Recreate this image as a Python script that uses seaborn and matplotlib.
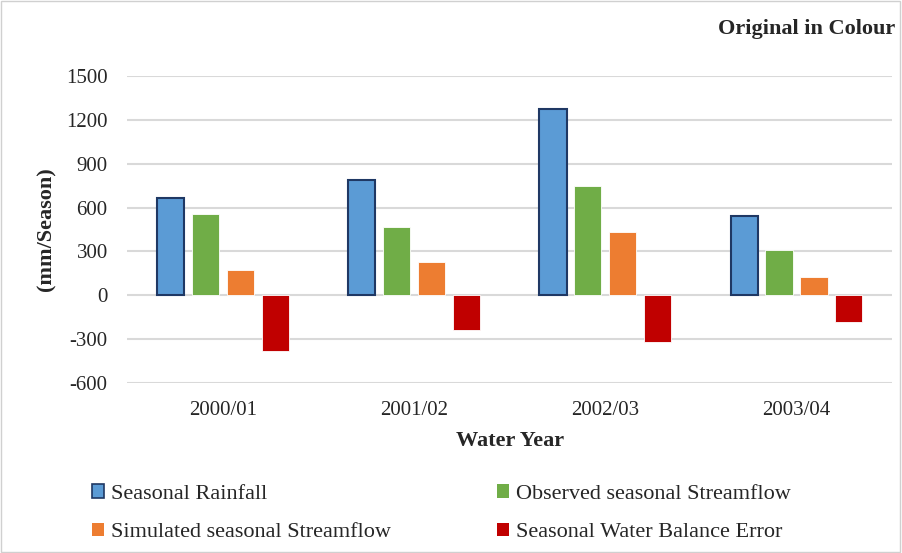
import pandas as pd
import matplotlib.pyplot as plt
import seaborn as sns
from matplotlib.patches import Patch

# =====================================
# DATA
# =====================================

years = ["2000/01", "2001/02", "2002/03", "2003/04"]
series = [
    "Seasonal Rainfall",
    "Observed seasonal Streamflow",
    "Simulated seasonal Streamflow",
    "Seasonal Water Balance Error",
]
rainfall = [665, 790, 1272, 540]
observed = [555, 465, 748, 310]
simulated = [172, 225, 435, 125]
error = [-382, -235, -315, -185]

colors = ["#5B9BD5", "#70AD47", "#ED7D31", "#C00000"]

df = pd.DataFrame({
    "Water Year": years * 4,
    "Series": [s for s in series for _ in years],
    "Value": rainfall + observed + simulated + error,
})

# =====================================
# PLOT
# =====================================

sns.set_style("white")
plt.rcParams["font.family"] = ["Liberation Serif", "DejaVu Serif"]
plt.rcParams["axes.unicode_minus"] = False

fig = plt.figure(figsize=(9.02, 5.53), dpi=100)
ax = fig.add_axes([0.141, 0.307, 0.848, 0.556])

sns.barplot(
    data=df,
    x="Water Year",
    y="Value",
    hue="Series",
    order=years,
    hue_order=series,
    palette=colors,
    saturation=1,
    width=0.73,
    gap=0.22,
    errorbar=None,
    legend=False,
    ax=ax,
)

# navy outline on the rainfall bars only
for patch in ax.patches[:len(years)]:
    patch.set_edgecolor("#1F3864")
    patch.set_linewidth(1.5)
for patch in ax.patches[len(years):]:
    patch.set_edgecolor("white")
    patch.set_linewidth(0.6)

ax.set_ylim(-600, 1500)
ax.set_yticks(range(-600, 1501, 300))
ax.yaxis.grid(True, color="#d9d9d9", linewidth=1.5)
ax.set_axisbelow(True)
for side in ["top", "right", "left", "bottom"]:
    ax.spines[side].set_visible(False)
ax.tick_params(axis="y", length=0, labelsize=15, pad=14)
ax.tick_params(axis="x", length=0, labelsize=15, pad=13)

ax.set_xlabel("Water Year", fontsize=16, fontweight="bold", labelpad=8)
ax.set_ylabel("(mm/Season)", fontsize=16, fontweight="bold", labelpad=7)

fig.text(0.992, 0.947, "Original in Colour", ha="right", va="center",
         fontsize=16, fontweight="bold")

handles = [
    Patch(facecolor=colors[0], edgecolor="#1F3864", linewidth=1.2, label=series[0]),
    Patch(facecolor=colors[2], edgecolor="none", label=series[2]),
    Patch(facecolor=colors[1], edgecolor="none", label=series[1]),
    Patch(facecolor=colors[3], edgecolor="none", label=series[3]),
]
fig.legend(
    handles=handles,
    loc="lower left",
    bbox_to_anchor=(0.080, -0.017),
    ncol=2,
    frameon=False,
    fontsize=16,
    handlelength=0.55,
    handleheight=0.55,
    handletextpad=0.3,
    columnspacing=4.76,
    labelspacing=0.85,
)

fig.patches.append(plt.Rectangle((0.001, 0.001), 0.997, 0.997, transform=fig.transFigure,
                                 fill=False, edgecolor="#d0d0d0", linewidth=1))

plt.savefig("out.png", dpi=100)
